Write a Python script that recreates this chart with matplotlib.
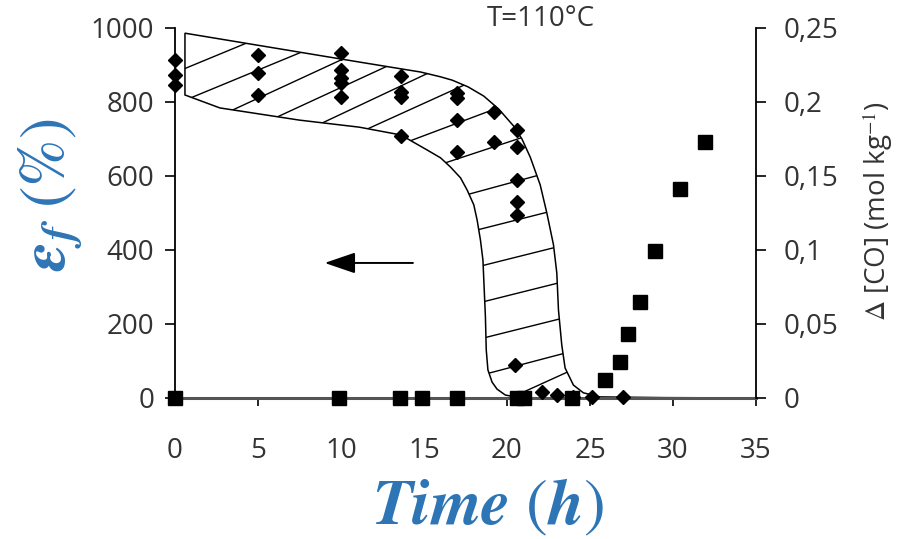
import numpy as np
import matplotlib
matplotlib.use("Agg")
import matplotlib.pyplot as plt
from matplotlib.lines import Line2D
from matplotlib.patches import Polygon

plt.rcParams["font.family"] = ["Open Sans", "DejaVu Sans"]
plt.rcParams["mathtext.fontset"] = "stix"

# strain at failure, left axis (%)
eps_time = [0, 0, 0, 5, 5, 5, 10, 10, 10, 10, 10,
             13.6, 13.6, 13.6, 13.6, 17, 17, 17, 17, 19.2, 19.2,
             20.6, 20.6, 20.6, 20.6, 20.6, 20.5, 22.1, 23.0, 24.0, 25.1, 27.0]
eps_value = [914, 873, 846, 927, 878, 819, 932, 886, 865, 851, 814,
             870, 827, 814, 708, 824, 812, 751, 665, 773, 692,
             724, 678, 589, 530, 495, 89, 16, 8, 3, 3, 3]

# CO release, right axis (mol/kg)
co_time = [0, 9.9, 13.55, 14.9, 17.0, 20.6, 21.0, 23.9,
           25.9, 26.8, 27.3, 28.0, 28.9, 30.4, 31.9]
co_value = [0, 0, 0, 0, 0, 0, 0, 0,
            0.012, 0.024, 0.043, 0.065, 0.099, 0.141, 0.173]

# hatched envelope
upper_t = [0.6, 11.1, 14.8, 16.0, 16.7, 17.65, 18.6, 19.5, 20.4, 20.9, 21.4,
           22.0, 22.4, 22.8, 23.0, 23.1, 23.3, 23.5, 24.0, 24.6, 25.6, 29.5, 34.9]
upper_v = [986, 908, 881, 868, 859, 841, 816, 781, 735, 700, 651,
           576, 500, 414, 338, 238, 143, 81, 35, 14, 3, 1, 0]
lower_t = [0.6, 2.7, 7.5, 11.1, 13.6, 15.2, 16.0, 16.6, 17.2, 17.6, 18.0,
           18.2, 18.4, 18.55, 18.7, 18.75, 18.85, 19.1, 19.4, 19.9, 20.5, 21.1]
lower_v = [819, 784, 751, 732, 711, 670, 649, 624, 595, 562, 522,
           481, 427, 373, 219, 130, 76, 43, 24, 8, 3, 0]

x_ticks = [0, 5, 10, 15, 20, 25, 30, 35]
left_ticks = [0, 200, 400, 600, 800, 1000]
right_ticks = [0, 0.05, 0.1, 0.15, 0.2, 0.25]
right_labels = ["0", "0,05", "0,1", "0,15", "0,2", "0,25"]

blue = "#2E75B6"
txt = "#333333"

fig = plt.figure(figsize=(9, 5.39), dpi=100)
ax = fig.add_axes([175 / 900, 1 - 398 / 539, 581 / 900, 370 / 539])
ax2 = ax.twinx()

ax.set_xlim(0, 35)
ax.set_ylim(0, 1000)
ax2.set_ylim(0, 0.25)

# envelope outline
poly_xy = np.column_stack([upper_t + lower_t[::-1], upper_v + lower_v[::-1]])
band = Polygon(poly_xy, closed=True, fill=False, edgecolor="black", lw=1.1, zorder=2)
ax.add_patch(band)

# hatching: lines anchored along the lower edge, slope eases as the edge turns down
pix = ax.transData.transform(np.column_stack([lower_t, lower_v]))
seg = np.diff(pix, axis=0)
seg_len = np.hypot(seg[:, 0], seg[:, 1])
cum = np.concatenate([[0], np.cumsum(seg_len)])
s = -36.0
while s < cum[-1] - 8:
    i = int(np.clip(np.searchsorted(cum, s) - 1, 0, len(seg) - 1))
    tan = seg[i] / seg_len[i]
    p = pix[i] + tan * (s - cum[i])
    f = abs(tan[1])
    slope = 0.5 - 0.25 * f
    d = np.array([1.0, slope]) / np.hypot(1.0, slope)
    ends = ax.transData.inverted().transform(np.array([p - 170 * d, p + 170 * d]))
    ln = Line2D(ends[:, 0], ends[:, 1], color="black", lw=1.0, zorder=2)
    ax.add_line(ln)
    ln.set_clip_path(band)
    s += 47 - 11 * f

ax.plot(eps_time, eps_value, "D", color="black", ms=7.2, clip_on=False, zorder=4)
ax2.plot(co_time, co_value, "s", color="black", ms=10, clip_on=False, zorder=4)

ax.annotate("", xy=(8.85, 365), xytext=(14.5, 365),
            arrowprops=dict(arrowstyle="-|>,head_length=1.9,head_width=0.65",
                            mutation_scale=10, color="black", lw=1.4))

for a in (ax, ax2):
    a.spines["top"].set_visible(False)
ax.spines["right"].set_visible(False)
ax2.spines["left"].set_visible(False)
ax2.spines["bottom"].set_visible(False)
ax.spines["left"].set_linewidth(1.3)
ax2.spines["right"].set_linewidth(1.3)
ax.spines["bottom"].set_color("#555555")
ax.spines["bottom"].set_linewidth(2.2)

ax.set_xticks(x_ticks)
ax.set_yticks(left_ticks)
ax2.set_yticks(right_ticks)
ax2.set_yticklabels(right_labels)
ax.tick_params(axis="x", length=6, width=1.2, pad=22, labelsize=20, labelcolor=txt)
ax.tick_params(axis="y", length=7, width=1.2, pad=8, labelsize=20, labelcolor=txt)
ax2.tick_params(axis="y", length=7, width=1.2, pad=13, labelsize=20, labelcolor=txt)

ax2.set_ylabel(r"$\Delta$ [CO] (mol kg$^{-1}$)", fontsize=20, color=txt)
ax2.yaxis.set_label_coords((878 - 175) / 581, (398 - 211) / 370)
ax2.yaxis.label.set_va("center")

fig.text(541 / 900, 1 - 19 / 539, "T=110°C", ha="center", va="center",
         fontsize=20, color=txt)
fig.text(488 / 900, 1 - 507 / 539,
         r"$\mathbfit{Time}\ \mathrm{(}\mathbfit{h}\mathrm{)}$",
         ha="center", va="center", fontsize=47, color=blue)
fig.text(51 / 900, 1 - 195 / 539,
         r"$\mathbfit{\varepsilon}_{\mathbfit{f}}\ \mathrm{(\%)}$",
         ha="center", va="center", rotation=90, fontsize=46, color=blue)

fig.savefig("out.png", dpi=100)
